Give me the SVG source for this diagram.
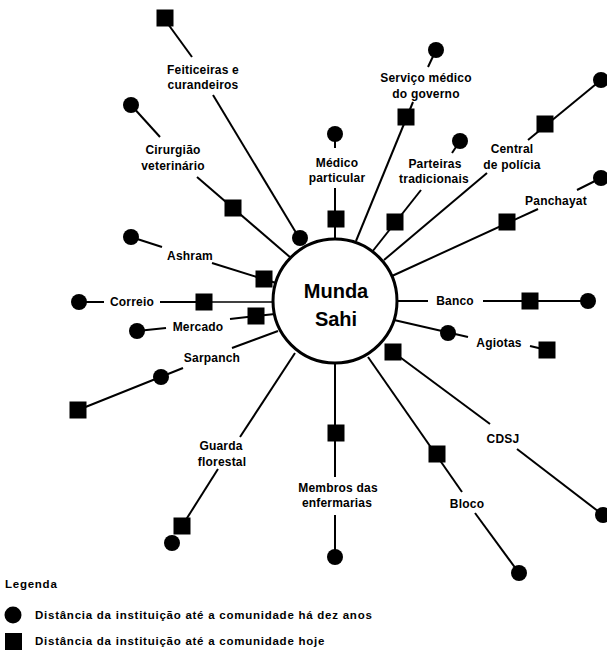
<svg xmlns="http://www.w3.org/2000/svg" width="607" height="653" viewBox="0 0 607 653">
<style>
  .ln { stroke: #000; stroke-width: 2; fill: none; stroke-linecap: butt; }
  .thin { stroke-width: 1.4; }
  .lbl { font-family: "Liberation Sans", Arial, sans-serif; font-weight: bold; font-size: 12px; letter-spacing: 0.2px; text-anchor: middle; fill: #000; }
  .leg { font-family: "Liberation Sans", Arial, sans-serif; font-weight: bold; font-size: 11.5px; letter-spacing: 0.75px; fill: #000; }
  .ctr { font-family: "Liberation Sans", Arial, sans-serif; font-weight: bold; font-size: 20px; text-anchor: middle; fill: #000; }
</style>
<defs>
  <circle id="dot" r="8" fill="#000"/>
  <rect id="sq" x="-8.5" y="-8.5" width="17" height="17" fill="#000"/>
</defs>
<rect width="607" height="653" fill="#fff"/>

<g id="connectors">
  <line class="ln" x1="168" y1="24" x2="192" y2="57"/>
  <line class="ln" x1="213" y1="95" x2="298" y2="236"/>
  <line class="ln" x1="131" y1="105" x2="160" y2="137"/>
  <line class="ln" x1="197" y1="177" x2="291" y2="258"/>
  <line class="ln" x1="131" y1="237" x2="162" y2="247"/>
  <line class="ln" x1="212" y1="263" x2="276" y2="283"/>
  <line class="ln" x1="79" y1="302" x2="104" y2="302"/>
  <line class="ln" x1="160" y1="302" x2="204" y2="302"/>
  <line class="ln thin" x1="204" y1="302" x2="274" y2="302"/>
  <line class="ln" x1="137" y1="331" x2="166" y2="328"/>
  <line class="ln" x1="230" y1="319" x2="275" y2="314"/>
  <line class="ln" x1="78" y1="410" x2="183" y2="368"/>
  <line class="ln" x1="232" y1="348" x2="278" y2="331"/>
  <line class="ln" x1="295" y1="353" x2="240" y2="437"/>
  <line class="ln" x1="218" y1="469" x2="182" y2="526"/>
  <line class="ln" x1="335" y1="363" x2="335" y2="477"/>
  <line class="ln" x1="335" y1="515" x2="335" y2="557"/>
  <line class="ln" x1="368" y1="357" x2="462" y2="492"/>
  <line class="ln" x1="475" y1="513" x2="519" y2="573"/>
  <line class="ln" x1="393" y1="352" x2="490" y2="424"/>
  <line class="ln" x1="517" y1="449" x2="603" y2="515"/>
  <line class="ln" x1="394" y1="320" x2="468" y2="337"/>
  <line class="ln" x1="530" y1="346" x2="547" y2="350"/>
  <line class="ln" x1="397" y1="301" x2="428" y2="301"/>
  <line class="ln" x1="483" y1="301" x2="588" y2="301"/>
  <line class="ln" x1="392" y1="276" x2="538" y2="209"/>
  <line class="ln" x1="577" y1="190" x2="601" y2="178"/>
  <line class="ln" x1="384" y1="260" x2="487" y2="173"/>
  <line class="ln" x1="528" y1="140" x2="601" y2="80"/>
  <line class="ln" x1="372" y1="252" x2="421" y2="190"/>
  <line class="ln" x1="452" y1="153" x2="460" y2="141"/>
  <line class="ln" x1="335" y1="239" x2="335" y2="188"/>
  <line class="ln" x1="335" y1="148" x2="335" y2="134"/>
  <line class="ln" x1="356" y1="241" x2="413" y2="102"/>
  <line class="ln" x1="428" y1="67" x2="436" y2="50"/>
</g>

<g id="center">
  <circle cx="335" cy="301" r="62" fill="#fff" stroke="#000" stroke-width="3"/>
  <text class="ctr" x="336" y="298">Munda</text>
  <text class="ctr" x="336" y="326">Sahi</text>
</g>

<g id="feiticeiras">
  <use href="#sq" x="165" y="18"/>
  <use href="#dot" x="300" y="238"/>
  <text class="lbl" x="203" y="74">Feiticeiras e</text>
  <text class="lbl" x="203" y="89">curandeiros</text>
</g>
<g id="cirurgiao">
  <use href="#dot" x="131" y="105"/>
  <use href="#sq" x="233" y="208"/>
  <text class="lbl" x="173" y="154">Cirurgião</text>
  <text class="lbl" x="173" y="170">veterinário</text>
</g>
<g id="ashram">
  <use href="#dot" x="131" y="237"/>
  <use href="#sq" x="264" y="279"/>
  <text class="lbl" x="190" y="260">Ashram</text>
</g>
<g id="correio">
  <use href="#dot" x="79" y="302"/>
  <use href="#sq" x="204" y="302"/>
  <text class="lbl" x="132" y="306">Correio</text>
</g>
<g id="mercado">
  <use href="#dot" x="137" y="331"/>
  <use href="#sq" x="256" y="316"/>
  <text class="lbl" x="198" y="331">Mercado</text>
</g>
<g id="sarpanch">
  <use href="#sq" x="78" y="410"/>
  <use href="#dot" x="161" y="377"/>
  <text class="lbl" x="212" y="362">Sarpanch</text>
</g>
<g id="guarda">
  <use href="#sq" x="182" y="526"/>
  <use href="#dot" x="172" y="543"/>
  <text class="lbl" x="221" y="450">Guarda</text>
  <text class="lbl" x="222" y="466">florestal</text>
</g>
<g id="membros">
  <use href="#sq" x="336" y="433"/>
  <use href="#dot" x="335" y="557"/>
  <text class="lbl" x="338" y="492">Membros das</text>
  <text class="lbl" x="337" y="507">enfermarias</text>
</g>
<g id="bloco">
  <use href="#sq" x="437" y="454"/>
  <use href="#dot" x="519" y="573"/>
  <text class="lbl" x="467" y="508">Bloco</text>
</g>
<g id="cdsj">
  <use href="#sq" x="393" y="352"/>
  <use href="#dot" x="603" y="515"/>
  <text class="lbl" x="503" y="443">CDSJ</text>
</g>
<g id="agiotas">
  <use href="#dot" x="448" y="333"/>
  <use href="#sq" x="547" y="350"/>
  <text class="lbl" x="499" y="347">Agiotas</text>
</g>
<g id="banco">
  <use href="#sq" x="530" y="301"/>
  <use href="#dot" x="588" y="301"/>
  <text class="lbl" x="455" y="305">Banco</text>
</g>
<g id="panchayat">
  <use href="#sq" x="507" y="222"/>
  <use href="#dot" x="601" y="178"/>
  <text class="lbl" x="556" y="205">Panchayat</text>
</g>
<g id="central">
  <use href="#sq" x="545" y="124"/>
  <use href="#dot" x="601" y="80"/>
  <text class="lbl" x="512" y="153">Central</text>
  <text class="lbl" x="512" y="169">de polícia</text>
</g>
<g id="parteiras">
  <use href="#sq" x="395" y="222"/>
  <use href="#dot" x="460" y="141"/>
  <text class="lbl" x="435" y="168">Parteiras</text>
  <text class="lbl" x="434" y="183">tradicionais</text>
</g>
<g id="medico">
  <use href="#sq" x="336" y="219"/>
  <use href="#dot" x="335" y="134"/>
  <text class="lbl" x="337" y="167">Médico</text>
  <text class="lbl" x="337" y="182">particular</text>
</g>
<g id="servico">
  <use href="#sq" x="406" y="117"/>
  <use href="#dot" x="436" y="50"/>
  <text class="lbl" x="426" y="82">Serviço médico</text>
  <text class="lbl" x="426" y="98">do governo</text>
</g>

<g id="legend">
  <text class="leg" x="5" y="588">Legenda</text>
  <circle cx="13" cy="615" r="8.5" fill="#000"/>
  <text class="leg" x="35" y="619">Distância da instituição até a comunidade há dez anos</text>
  <rect x="5" y="633" width="17" height="17" fill="#000"/>
  <text class="leg" x="35" y="645">Distância da instituição até a comunidade hoje</text>
</g>
</svg>
